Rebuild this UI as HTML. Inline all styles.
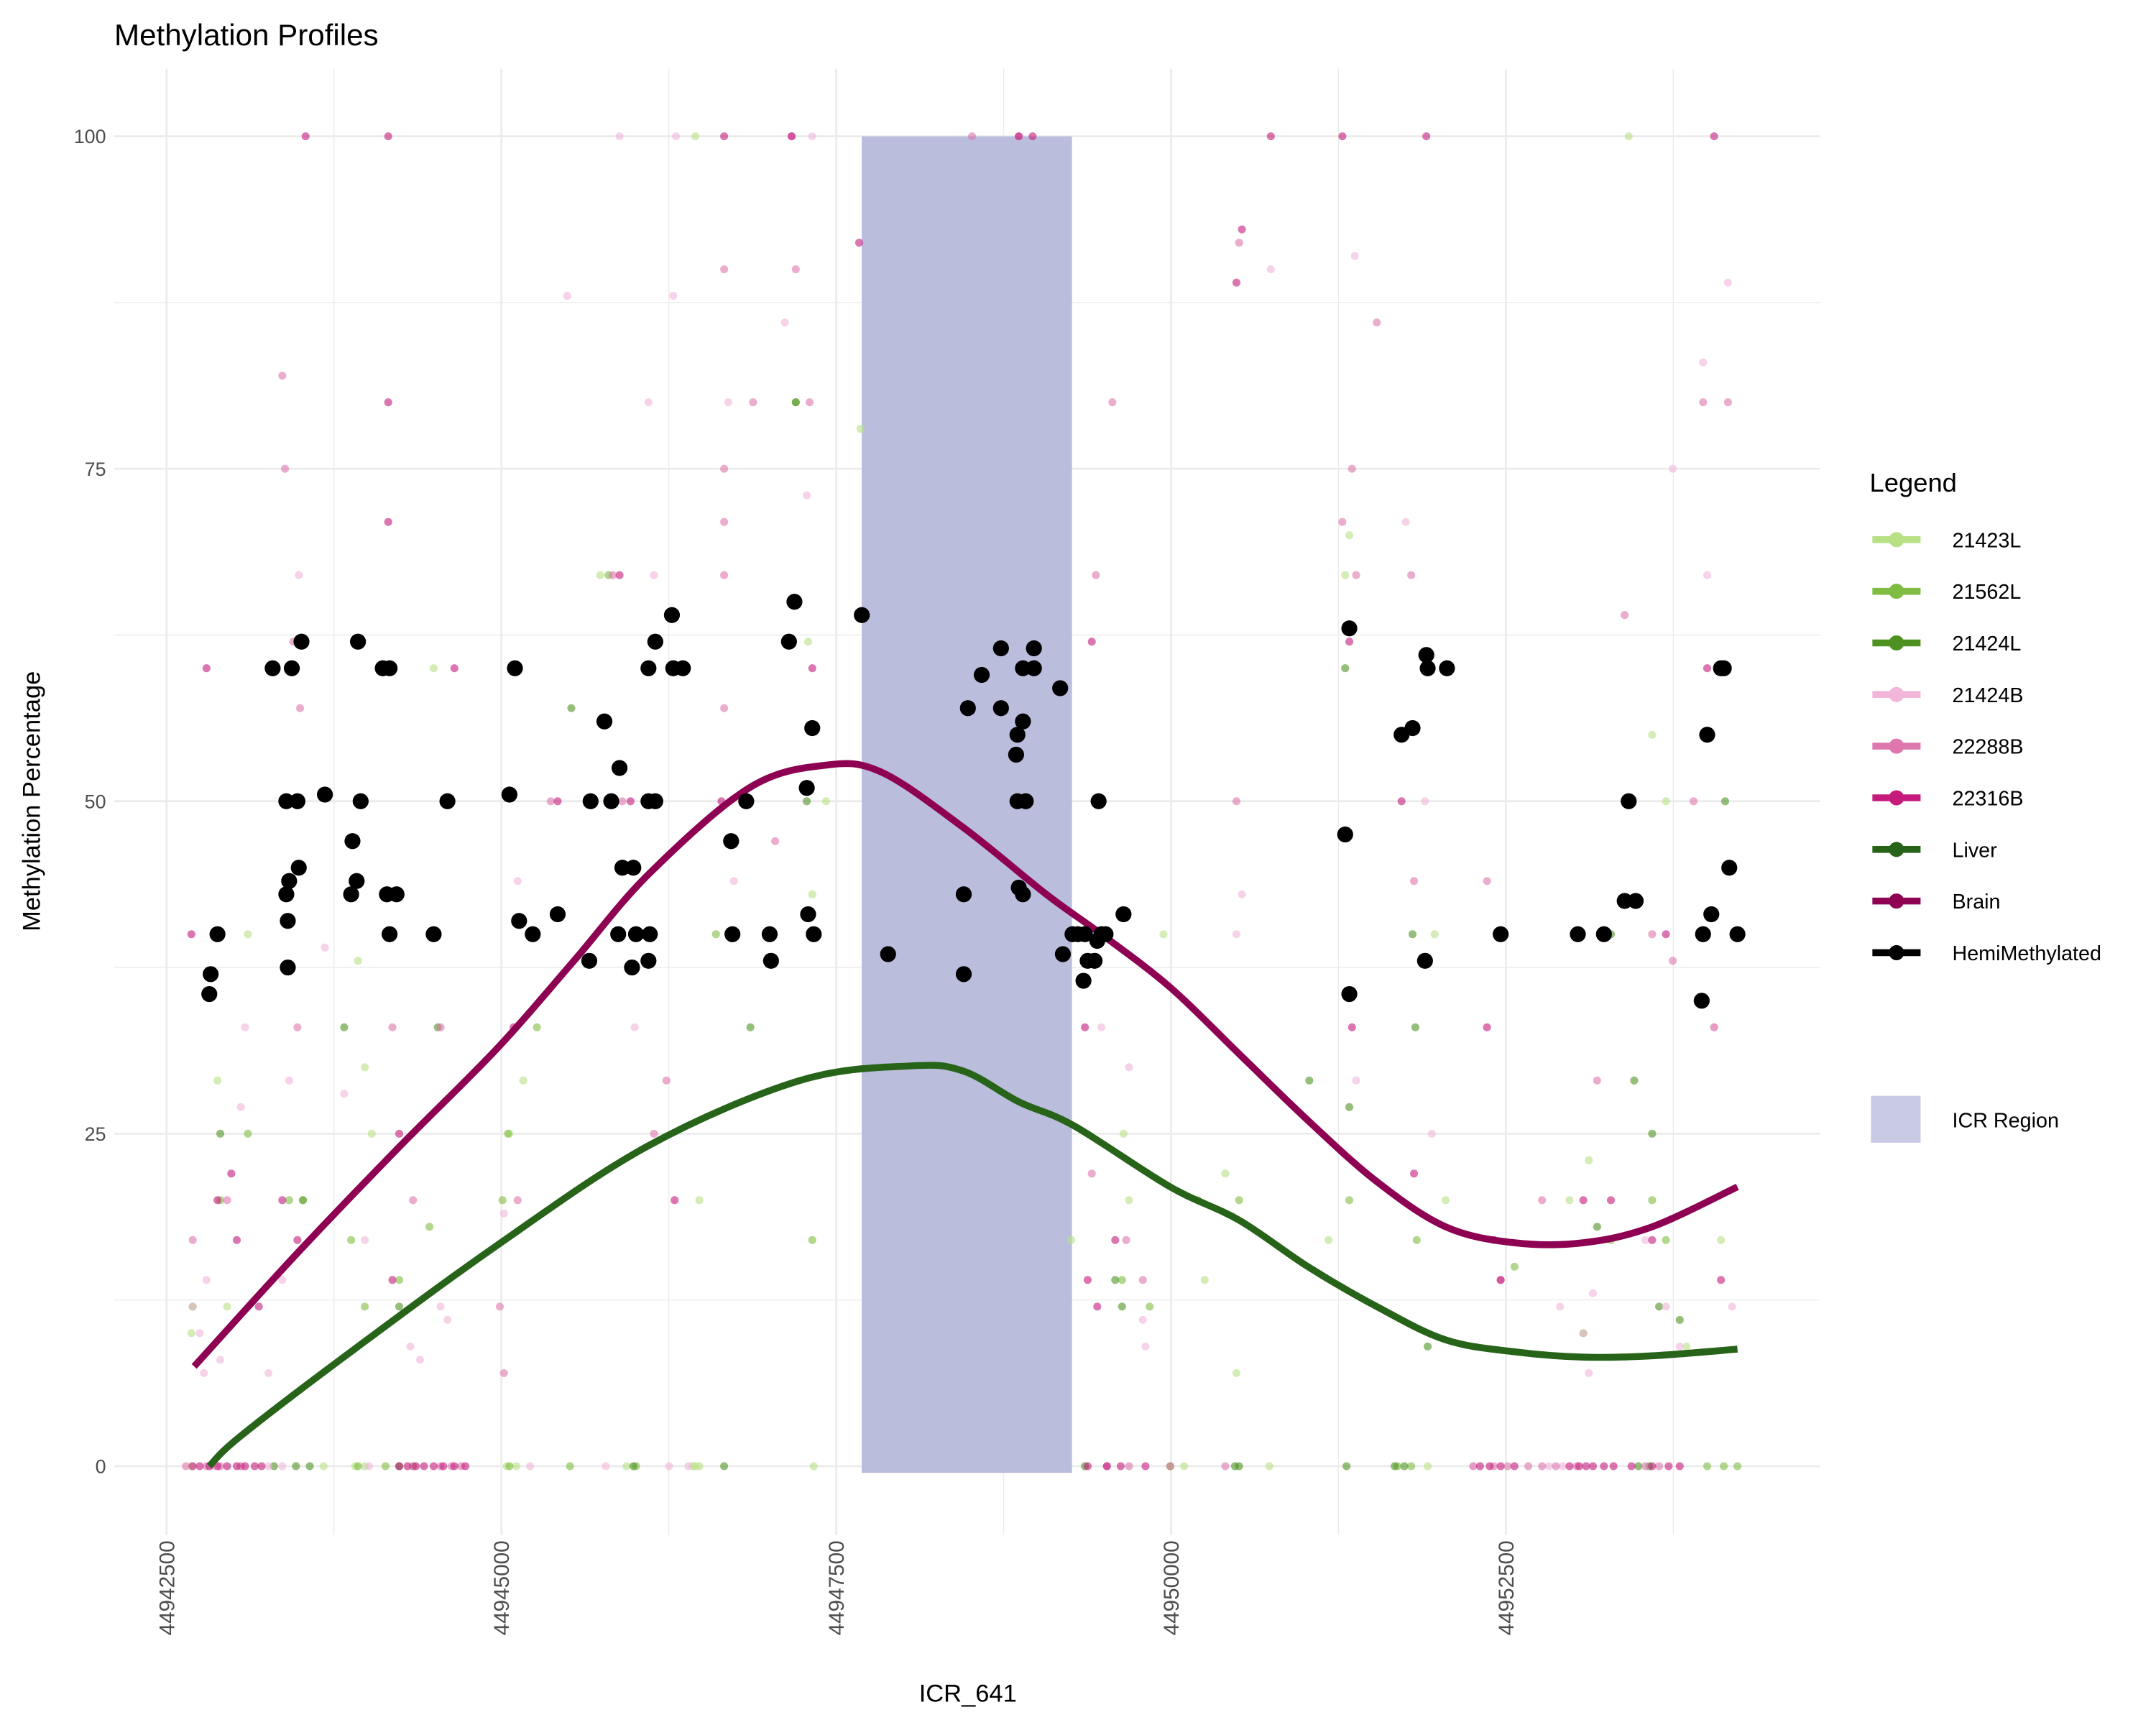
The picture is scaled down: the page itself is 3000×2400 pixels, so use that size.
<!DOCTYPE html>
<html><head><meta charset="utf-8"><style>
html,body{margin:0;padding:0;background:#fff}
svg{display:block}
text{font-family:"Liberation Sans",sans-serif}
</style></head><body>
<svg id="chart" width="3000" height="2400" viewBox="0 0 1566 1253" preserveAspectRatio="none" xmlns="http://www.w3.org/2000/svg">
<rect x="0" y="0" width="1566" height="1253" fill="#fff"/>
<g id="grid"></g>
<g id="icr"></g>
<g id="pts"></g>
<g id="curves"></g>
<g id="hemi"></g>
<g id="axes"></g>
<text x="83" y="33" font-size="22" fill="#000">Methylation Profiles</text>
<text x="703" y="1236" font-size="18" text-anchor="middle" fill="#000">ICR_641</text>
<text transform="translate(29,582) rotate(-90)" font-size="18" text-anchor="middle" fill="#000">Methylation Percentage</text>
<g id="legend">
<text x="1358" y="357" font-size="19" fill="#000">Legend</text>
</g>
</svg>
<script>
const REGION_START = 44942500;
const xTicks = [44942500, 44945000, 44947500, 44950000, 44952500];
const xTickLabels = ["44942500", "44945000", "44947500", "44950000", "44952500"];
const yTicks = [0, 25, 50, 75, 100];
const yTickLabels = ["0", "25", "50", "75", "100"];
const icrStart = 44947690, icrEnd = 44949260, icrLow = -0.5, icrHigh = 100;

const seriesNames = ["21423L","21562L","21424L","21424B","22288B","22316B","Liver","Brain","HemiMethylated"];
const seriesColors = ["#b8e186","#7fbc41","#4d9221","#f1b6da","#de77ae","#c51b7d","#276419","#8e0152","#000000"];

const s21423L_pos = [185,1172,1408,1480,2539,2611,3434,3927,3948,3978,4832,7494,7597,8234,9416,185,380,452,607,1018,1429,1480,1532,1994,2560,2663,3238,3948,3978,4790,4821,5181,4924,6754,7145,7186,7443,7751,7905,7988,8676,8800,8831,9468,9550,10475,10619,10917,11092,11195,11349,11709,11606];
const s21423L_val = [0,0,0,0,0,0,0,0,0,0,0,0,0,0,0,10,29,12,40,20,38,30,25,60,25,29,67,100,20,62,43,78,50,17,25,20,40,14,22,7,17,67,70,40,20,20,23,100,55,50,9,40,17];
const s21562L_pos = [1429,1635,1840,2560,3012,3505,7494,9190,9293,11503,11627,11729,195,401,607,915,1378,1480,1737,1963,2508,2549,2765,3177,3300,4102,4698,4821,7134,7340,7700,8008,8831,9334,10064,10578,10784,11092,11195];
const s21562L_val = [0,0,0,0,0,0,0,0,0,0,0,0,12,20,25,20,17,12,14,18,20,25,33,38,67,40,80,17,14,12,20,20,20,17,15,10,17,20,17];
const s21424L_pos = [802,966,1069,1737,3485,4163,6857,7977,8008,8810,9170,9242,10989,11071,401,1018,1326,1737,2025,3022,4359,4780,4698,7083,7134,8532,8800,8831,9303,9324,9416,10681,10784,10917,10958,11092,11144,11298,11637];
const s21424L_val = [0,0,0,0,0,0,0,0,0,0,0,0,0,0,25,20,33,12,33,57,33,50,80,14,12,29,60,27,40,33,9,18,40,50,29,25,12,11,50];
const s21424B_pos = [350,555,761,864,1511,2714,3279,3752,3896,9756,10321,10424,195,247,278,298,401,555,586,761,864,915,987,1182,1326,1480,1820,1892,2046,2097,2519,2621,2991,3382,3495,3598,3639,3783,3803,4194,4235,4616,4780,4821,7988,8029,8245,8872,8882,9252,9396,9447,10404,10578,10619,10650,11246,11195,11298,11472,11503,11555,11658,11689,11041,6980,7186,7289,7309];
const s21424B_val = [0,0,0,0,0,0,0,0,0,0,0,0,12,10,7,14,8,27,33,7,14,29,67,39,28,17,9,8,12,11,19,44,88,100,33,80,67,88,100,80,44,86,73,100,40,43,90,91,29,71,50,25,12,10,7,13,75,12,9,83,67,33,89,12,17,33,30,11,9];
const s22288B_pos = [144,298,401,555,1840,2046,2128,2200,7021,7186,7494,7905,9756,9910,10013,10167,10270,10373,10527,11041,11144,195,452,864,884,946,977,997,1686,1840,2046,2488,2519,2621,2868,3331,3403,3639,3732,4163,4163,4163,4163,4163,4379,4544,4667,4698,4801,6014,6363,6908,6939,7062,7165,7289,7988,8008,9036,8779,8851,8882,9293,9314,9386,9859,9961,10270,10681,10887,11092,11246,11401,11472,11555,11658];
const s22288B_val = [0,0,0,0,0,0,0,0,0,0,0,0,0,0,0,0,0,0,0,0,0,17,20,82,75,62,33,57,33,20,33,12,7,20,50,67,50,25,29,90,75,71,67,57,80,47,100,90,80,100,100,22,67,80,17,14,50,92,86,71,75,67,67,44,38,44,14,20,29,64,40,38,50,80,33,80];
const s22316B_pos = [195,247,319,380,452,524,586,658,709,1737,1799,1861,1922,1994,2066,2149,2231,6877,7021,7124,7309,9807,9879,9961,10064,10475,10547,10599,10650,10732,10804,10938,11092,11215,11298,185,298,380,483,524,689,864,1038,966,977,1655,1655,1655,1686,1737,2149,2591,2920,3382,3464,3793,4163,4143,4667,4821,5171,6363,6466,6857,6877,6908,6949,7083,8029,7988,8245,8779,8831,8851,9221,9314,9406,9859,9910,9961,10578,10784,11092,11195,11503,11555,11606];
const s22316B_val = [0,0,0,0,0,0,0,0,0,0,0,0,0,0,0,0,0,0,0,0,0,0,0,0,0,0,0,0,0,0,0,0,0,0,0,40,60,20,22,17,12,20,100,60,17,100,80,71,14,25,60,33,50,67,50,20,100,50,100,60,92,100,100,33,14,62,12,17,93,89,100,100,62,33,50,22,100,33,17,14,20,20,17,40,60,100,14];

const liver_pos = [319,545,1336,2467,3598,4729,5561,5952,6363,6774,7494,8008,8522,9036,9550,10064,10578,11092,11729];
const liver_val = [0,2.2,8.3,16.6,24.1,29,30.1,29.7,27.4,25.6,21,18.5,15,12,9.5,8.6,8.2,8.3,8.8];
const brain_pos = [206,956,1717,2467,3033,3598,4349,4914,5335,5952,6569,6980,7494,8008,8522,9036,9550,10064,10578,11092,11729];
const brain_val = [7.5,15.8,23.8,31.4,37.9,44.5,51,52.7,52.2,48,43,40,36,31,26,21.4,18,16.8,16.8,18,21];

const hemi_pos = [319,329,380,792,894,905,905,894,915,935,977,987,1007,1182,1378,1388,1419,1429,1449,1614,1665,1665,1645,1717,1994,2097,2560,2601,2632,2734,2920,3156,3166,3269,3320,3372,3382,3403,3475,3485,3505,3598,3608,3598,3598,3649,3649,3773,3783,3855,4215,4225,4328,4503,4513,4647,4688,4780,4790,4821,4832,5191,5387,5952,5952,5983,6086,6230,6230,6343,6353,6353,6363,6394,6394,6394,6415,6476,6476,6672,6692,6764,6805,6846,6857,6877,6929,6949,6959,6980,7011,7145,8800,8831,8831,9221,9303,9396,9406,9416,9560,9961,10537,10732,10887,10917,10969,11462,11472,11503,11534,11606,11627,11668,11729];
const hemi_val = [35.5,37,40,60,43,41,37.5,50,44,60,50,45,62,50.5,43,47,44,62,50,60,60,40,43,43,40,50,50.5,60,41,40,41.5,38,50,56,50,40,52.5,45,37.5,45,40,38,40,60,50,62,50,64,60,60,47,40,50,40,38,62,65,51,41.5,55.5,40,64,38.5,43,37,57,59.5,61.5,57,53.5,55,50,43.5,56,43,60,50,61.5,60,58.5,38.5,40,40,36.5,40,38,38,39.5,50,40,40,41.5,47.5,63,35.5,55,55.5,38,61,60,60,40,40,40,42.5,50,42.5,35,40,55,41.5,60,60,45,40];

const NS = "http://www.w3.org/2000/svg";
const PX0 = 121, PXPER = 243.2 / 2500, PY0 = 1065, PYPER = 9.66;
function xS(g){ return PX0 + (g - 44942500) * PXPER; }
function yS(v){ return PY0 - v * PYPER; }
function mk(tag, attrs, parent){ const e=document.createElementNS(NS,tag); for(const k in attrs) e.setAttribute(k,attrs[k]); parent.appendChild(e); return e; }

const grid = document.getElementById('grid');
const panel = {l:83, r:1322, t:50, b:1115};
for (let i=0;i<xTicks.length;i++){
  const g = xTicks[i] + 1250;
  const el = mk('line',{x1:xS(g),x2:xS(g),y1:panel.t,y2:panel.b,stroke:'#ebebeb','stroke-width':0.7},grid);
  
  
}
for (let i=0;i<yTicks.length-1;i++){
  const v = (yTicks[i]+yTicks[i+1])/2;
  const el = mk('line',{x1:panel.l,x2:panel.r,y1:yS(v),y2:yS(v),stroke:'#ebebeb','stroke-width':0.7},grid);
  
  
}
xTicks.forEach((g,i)=>{
  const el = mk('line',{x1:xS(g),x2:xS(g),y1:panel.t,y2:panel.b,stroke:'#ebebeb','stroke-width':1.4},grid);
  
  
});
yTicks.forEach((v,i)=>{
  const el = mk('line',{x1:panel.l,x2:panel.r,y1:yS(v),y2:yS(v),stroke:'#ebebeb','stroke-width':1.4},grid);
  
  
});

const axes = document.getElementById('axes');
xTicks.forEach((g,i)=>{
  const t = mk('text',{transform:`translate(${xS(g)+5.5},1119) rotate(-90)`,'font-size':15.5,fill:'#4d4d4d','text-anchor':'end'},axes);
  t.textContent = xTickLabels[i];
  
  
});
yTicks.forEach((v,i)=>{
  const t = mk('text',{x:77,y:yS(v)+5,'font-size':14,fill:'#4d4d4d','text-anchor':'end'},axes);
  t.textContent = yTickLabels[i];
  
  
});

const icrEl = mk('rect',{x:xS(icrStart),y:yS(icrHigh),width:xS(icrEnd)-xS(icrStart),height:yS(icrLow)-yS(icrHigh),fill:'#bbbddc'},document.getElementById('icr'));



const ptsG = document.getElementById('pts');
const samples = [
  [s21423L_pos,s21423L_val,seriesColors[0],'21423L'],
  [s21562L_pos,s21562L_val,seriesColors[1],'21562L'],
  [s21424L_pos,s21424L_val,seriesColors[2],'21424L'],
  [s21424B_pos,s21424B_val,seriesColors[3],'21424B'],
  [s22288B_pos,s22288B_val,seriesColors[4],'22288B'],
  [s22316B_pos,s22316B_val,seriesColors[5],'22316B']
];
samples.forEach(s=>{
  for(let i=0;i<s[0].length;i++){
    const c = mk('circle',{cx:xS(REGION_START+s[0][i]),cy:yS(s[1][i]),r:2.9,fill:s[2],'fill-opacity':0.6},ptsG);
    
    
  }
});

function smoothPath(pos,val){
  const p = pos.map((g,i)=>[xS(REGION_START+g),yS(val[i])]);
  let d = `M${p[0][0]},${p[0][1]}`;
  for(let i=0;i<p.length-1;i++){
    const p0=p[Math.max(0,i-1)],p1=p[i],p2=p[i+1],p3=p[Math.min(p.length-1,i+2)];
    const c1=[p1[0]+(p2[0]-p0[0])/6,p1[1]+(p2[1]-p0[1])/6];
    const c2=[p2[0]-(p3[0]-p1[0])/6,p2[1]-(p3[1]-p1[1])/6];
    d+=` C${c1[0]},${c1[1]} ${c2[0]},${c2[1]} ${p2[0]},${p2[1]}`;
  }
  return d;
}
const cg = document.getElementById('curves');
const liverLine = mk('path',{d:smoothPath(liver_pos,liver_val),fill:'none',stroke:seriesColors[6],'stroke-width':5},cg);


const brainLine = mk('path',{d:smoothPath(brain_pos,brain_val),fill:'none',stroke:seriesColors[7],'stroke-width':5},cg);



const hg = document.getElementById('hemi');
for(let i=0;i<hemi_pos.length;i++){
  const c = mk('circle',{cx:xS(REGION_START+hemi_pos[i]),cy:yS(hemi_val[i]),r:5.8,fill:'#000'},hg);
  
  
}

const lg = document.getElementById('legend');
seriesNames.forEach((n,i)=>{
  const y = 392 + i*37.5;
  const g = mk('g',{},lg);
  
  
  mk('line',{x1:1360,x2:1395,y1:y,y2:y,stroke:seriesColors[i],'stroke-width':5},g);
  mk('circle',{cx:1377.5,cy:y,r:5.5,fill:seriesColors[i]},g);
  const t = mk('text',{x:1418,y:y+5.5,'font-size':15,fill:'#000'},g);
  t.textContent = n;
});
const ig = mk('g',{},lg);


mk('rect',{x:1359,y:796,width:36,height:34,fill:'#c8c9e4'},ig);
const it = mk('text',{x:1418,y:819,'font-size':15,fill:'#000'},ig);
it.textContent = 'ICR Region';
</script>
</body></html>
